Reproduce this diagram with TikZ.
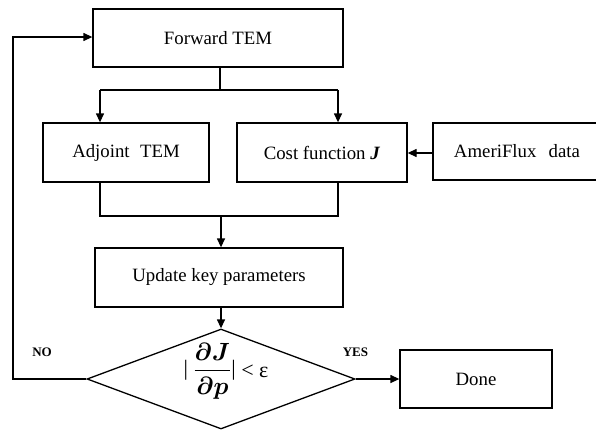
\documentclass[tikz,border=0pt]{standalone}
\usepackage{amsmath}
\usepackage{fontspec}
\setmainfont{Liberation Serif}
\usetikzlibrary{arrows.meta,shapes.geometric}
\tikzset{
  box/.style={draw, line width=1.3pt, rectangle, inner sep=0pt, font=\fontsize{18.8}{22}\selectfont},
  conn/.style={line width=1.3pt},
  arr/.style={line width=1.3pt, -{Triangle[length=9pt,width=8pt]}},
  lbl/.style={font=\fontsize{13}{15}\selectfont\bfseries, inner sep=0pt}
}
\begin{document}
\begin{tikzpicture}[x=1pt,y=-1pt]
\useasboundingbox (0,0) rectangle (596,431);
\fill[white] (0,0) rectangle (596,431);
\node[box, minimum width=250pt, minimum height=58pt] (fwd) at (218,38) {Forward TEM};
\node[box, minimum width=166pt, minimum height=59pt] (adj) at (126,152.5) {Adjoint\hspace{0.55em}TEM};
\node[box, minimum width=170pt, minimum height=59pt] (cost) at (322,152.5) {Cost function \textbf{\textit{J}}};
\node[box, minimum width=168pt, minimum height=57pt] (amf) at (517,151.5) {AmeriFlux\hspace{0.65em}data};
\node[box, minimum width=248pt, minimum height=59pt] (upd) at (219,277.5) {Update key parameters};
\node[draw, diamond, line width=1.3pt, minimum width=268pt, minimum height=100pt, inner sep=0pt] (dec) at (221,379) {};
\node[inner sep=0pt, font=\fontsize{22}{26}\selectfont] (form) at (226,371) {\raisebox{1.5pt}{|}\hspace{0.25em}{\fontsize{27}{30}\selectfont$\dfrac{\boldsymbol{\partial J}}{\boldsymbol{\partial p}}$}\raisebox{1.5pt}{|} < ε};
\node[box, minimum width=152pt, minimum height=58pt] (done) at (476,379) {Done};
\node[lbl] (no) at (42,352.5) {NO};
\node[lbl] (yes) at (355.5,352.5) {YES};
% coordinates
\coordinate (fb) at (220,90);
\coordinate (fl) at (100,90);
\coordinate (fr) at (338,90);
\coordinate (jl) at (100,216);
\coordinate (jr) at (338,216);
\coordinate (jm) at (221,216);
\coordinate (lb) at (13,379);
\coordinate (lt) at (13,37);
% connectors
\draw[conn] (fwd.south -| fb) -- (fb);
\draw[conn] (fl) -- (fr);
\draw[arr] (fl) -- (fl |- adj.north);
\draw[arr] (fr) -- (fr |- cost.north);
\draw[arr] (amf.west |- 0,153) -- (cost.east |- 0,153);
\draw[conn] (jl |- adj.south) -- (jl) -- (jr) -- (jr |- cost.south);
\draw[arr] (jm) -- (jm |- upd.north);
\draw[arr] (upd.south -| dec.north) -- (dec.north);
\draw[arr] (dec.west) -- (lb) -- (lt) -- (fwd.west |- lt);
\draw[arr] (dec.east) -- (done.west);
\end{tikzpicture}
\end{document}
